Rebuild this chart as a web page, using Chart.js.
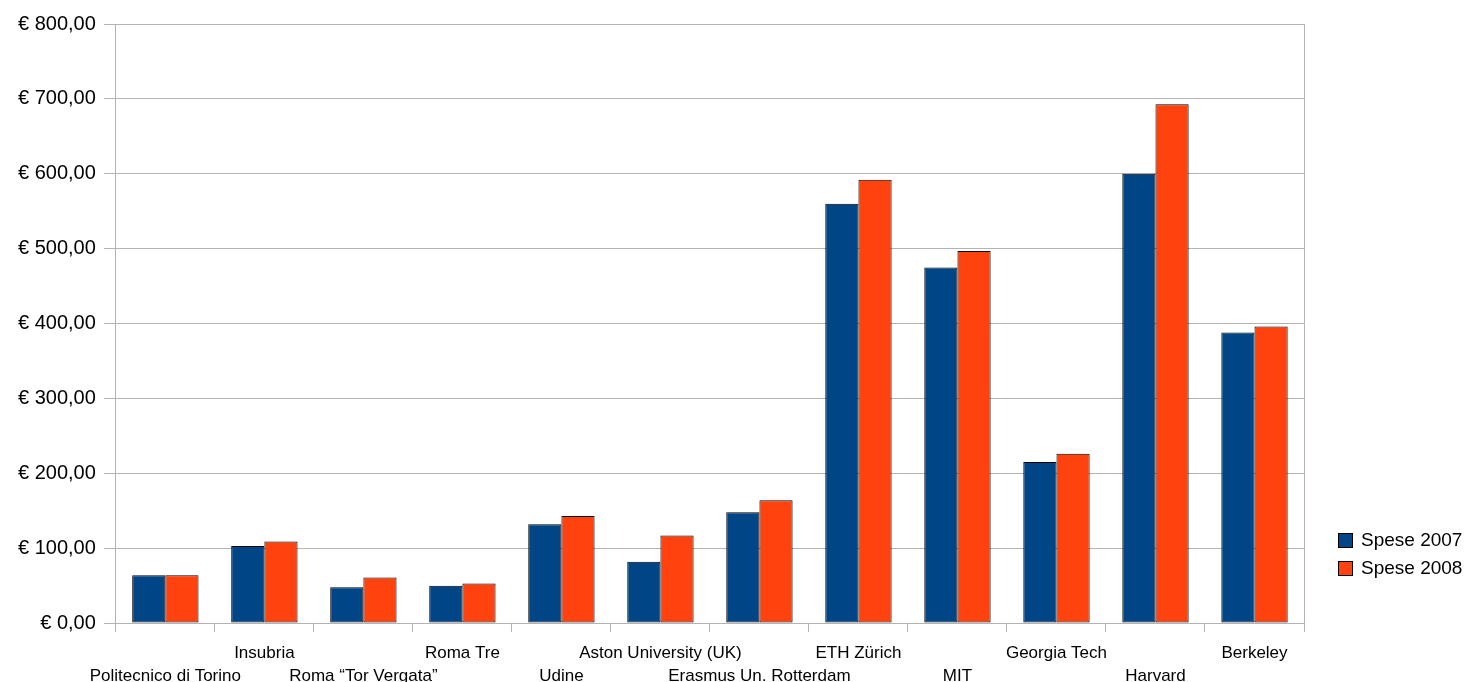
<!DOCTYPE html>
<html>
<head>
<meta charset="utf-8">
<script src="https://cdn.jsdelivr.net/npm/chart.js@4"></script>
<style>
  html, body { margin: 0; padding: 0; background: #fff; overflow: hidden; }
  #wrap { position: relative; width: 1479px; height: 682px; overflow: hidden; }
  #legend { position: absolute; left: 1338px; top: 526px; font-family: "Liberation Sans", Arial, sans-serif; font-size: 19px; color: #000; }
  #legend div { height: 28px; display: flex; align-items: center; }
  #legend span.box { display: inline-block; width: 13px; height: 13px; border: 1px solid #000; margin-right: 8px; }
</style>
</head>
<body>
<div id="wrap">
  <canvas id="chart" width="1479" height="698"></canvas>
  <div id="legend"></div>
</div>
<script>
const categories = ['Politecnico di Torino', 'Insubria', 'Roma \u201cTor Vergata\u201d', 'Roma Tre', 'Udine',
  'Aston University (UK)', 'Erasmus Un. Rotterdam', 'ETH Z\u00fcrich', 'MIT', 'Georgia Tech', 'Harvard', 'Berkeley'];
const spese2007 = [64, 103, 48, 50, 132, 82, 148, 560, 475, 215, 600, 388];
const spese2008 = [64, 109, 61, 53, 143, 117, 164, 592, 497, 226, 693, 396];
const seriesNames = ['Spese 2007', 'Spese 2008'];
const seriesColors = ['#004586', '#ff420e'];

function euro(v) {
  return '\u20ac ' + v.toFixed(2).replace('.', ',');
}

// right border of the plot area
const frame = {
  id: 'frame',
  afterDraw(chart) {
    const a = chart.chartArea, ctx = chart.ctx;
    ctx.save();
    ctx.strokeStyle = '#b3b3b3';
    ctx.lineWidth = 1;
    ctx.beginPath();
    ctx.moveTo(Math.round(a.right) + 0.5, a.top);
    ctx.lineTo(Math.round(a.right) + 0.5, a.bottom);
    ctx.stroke();
    ctx.restore();
  }
};

const ctx = document.getElementById('chart').getContext('2d');
new Chart(ctx, {
  type: 'bar',
  data: {
    labels: categories,
    datasets: [
      { label: seriesNames[0], data: spese2007, backgroundColor: seriesColors[0], borderColor: '#000', borderWidth: 1, borderSkipped: false },
      { label: seriesNames[1], data: spese2008, backgroundColor: seriesColors[1], borderColor: '#000', borderWidth: 1, borderSkipped: false }
    ]
  },
  options: {
    responsive: false,
    animation: false,
    layout: { padding: { left: 10, top: 24, right: 175, bottom: 0 } },
    datasets: { bar: { categoryPercentage: 0.67, barPercentage: 1.0 } },
    plugins: { legend: { display: false }, tooltip: { enabled: false } },
    scales: {
      x: {
        grid: { display: true, drawOnChartArea: false, color: '#b3b3b3', tickLength: 9, offset: true },
        border: { color: '#b3b3b3' },
        ticks: {
          autoSkip: false, maxRotation: 0, minRotation: 0, padding: 10,
          color: '#000',
          font: { family: 'Liberation Sans', size: 17, lineHeight: 1.35 },
          callback: function (v, i) {
            const name = categories[i];
            return i % 2 ? [name, ''] : ['', name];
          }
        }
      },
      y: {
        min: 0, max: 800,
        grid: { color: '#b3b3b3', tickLength: 12 },
        border: { color: '#b3b3b3' },
        ticks: {
          stepSize: 100, padding: 8, color: '#000',
          font: { family: 'Liberation Sans', size: 20 },
          callback: v => euro(v)
        }
      }
    }
  },
  plugins: [frame]
});

const legend = document.getElementById('legend');
seriesNames.forEach((n, i) => {
  const row = document.createElement('div');
  row.innerHTML = '<span class="box" style="background:' + seriesColors[i] + '"></span>' + n;
  legend.appendChild(row);
});
</script>
</body>
</html>
